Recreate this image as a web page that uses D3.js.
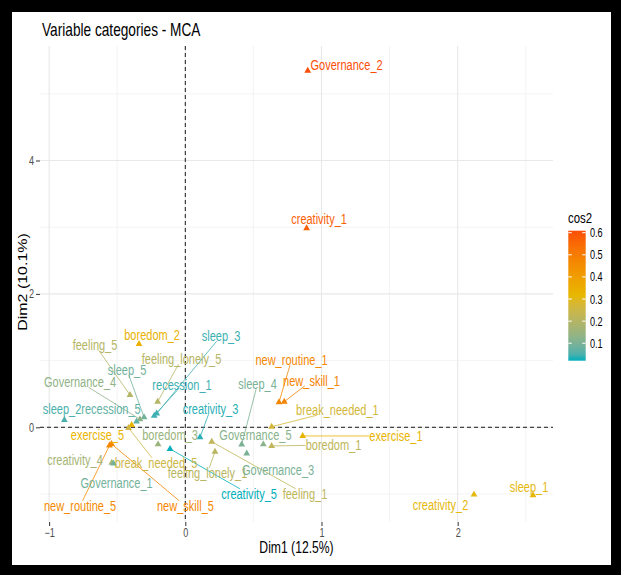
<!DOCTYPE html>
<html><head><meta charset="utf-8">
<script src="https://cdn.jsdelivr.net/npm/d3@7"></script>
<style>body{margin:0;background:#000}svg{display:block}</style>
</head><body>
<svg id="c" width="621" height="575"></svg>
<script>
// ---- data ----
const categories = ["Governance_2","creativity_1","boredom_2","feeling_5","feeling_lonely_5","sleep_3","new_routine_1","new_skill_1","sleep_5","Governance_4","recession_1","sleep_4","sleep_2","recession_5","creativity_3","break_needed_1","exercise_5","boredom_3","Governance_5","exercise_1","boredom_1","creativity_4","break_needed_5","feeling_lonely_1","Governance_3","Governance_1","creativity_5","feeling_1","new_routine_5","new_skill_5","sleep_1","creativity_2"];
const dim1 = [0.899,0.891,-0.340,-0.406,-0.203,-0.210,0.688,0.727,-0.303,-0.333,-0.228,0.414,-0.888,-0.358,0.108,0.634,-0.394,-0.200,0.573,0.862,0.634,-0.540,-0.417,0.218,0.451,-0.527,-0.112,0.194,-0.557,-0.542,2.553,2.120];
const dim2 = [5.346,2.984,1.249,0.484,0.384,0.207,0.375,0.384,0.150,0.120,0.174,-0.258,0.109,0.087,-0.150,0.009,0.034,-0.255,-0.255,-0.130,-0.280,-0.531,-0.010,-0.366,-0.393,-0.545,-0.325,-0.216,-0.273,-0.250,-1.019,-1.009];
const cos2 = [0.609,0.57,0.34,0.2,0.2,0.04,0.47,0.48,0.09,0.13,0.04,0.1,0.05,0.07,0.03,0.27,0.33,0.15,0.12,0.33,0.22,0.17,0.25,0.21,0.1,0.09,0.021,0.22,0.46,0.47,0.31,0.31];
// repelled label anchor positions (data units, centre of text)
const labelDim1 = [1.184,0.982,-0.244,-0.663,-0.028,0.262,0.780,0.927,-0.428,-0.773,-0.024,0.530,-0.905,-0.546,0.185,1.117,-0.645,-0.112,0.515,1.547,1.088,-0.810,-0.215,0.163,0.681,-0.505,0.468,0.879,-0.773,0.001,2.524,1.874];
const labelDim2 = [5.432,3.123,1.384,1.234,1.024,1.369,1.009,0.700,0.859,0.679,0.634,0.649,0.274,0.274,0.274,0.259,-0.115,-0.115,-0.115,-0.130,-0.265,-0.490,-0.535,-0.685,-0.640,-0.835,-1.000,-1.000,-1.180,-1.180,-0.895,-1.165];
const xTicks = [-1,0,1,2];
const xMinor = [-0.5,0.5,1.5,2.5];
const yTicks = [0,2,4];
const yMinor = [-1,1,3,5];
const legendTicks = [0.1,0.2,0.3,0.4,0.5,0.6];
const gradientColors = ["#00AFBB","#E7B800","#FC4E07"];
const titleText = "Variable categories - MCA";
const xTitle = "Dim1 (12.5%)";
const yTitle = "Dim2 (10.1%)";
const legendTitle = "cos2";

// ---- drawing ----
const SX = 0.76; // horizontal squeeze of the reference picture
const FONT = "'Liberation Sans', Arial, Helvetica, sans-serif";
const svg = d3.select("#c");
svg.append("rect").attr("width",621).attr("height",575).attr("fill","#000");
svg.append("rect").attr("x",12).attr("y",12).attr("width",599).attr("height",553).attr("fill","#fff");

const P = {l:40, r:553, t:46, b:522};
const x = d3.scaleLinear().domain([-1.067, 2.70]).range([P.l, P.r]);
const y = d3.scaleLinear().domain([-1.42, 5.717]).range([P.b, P.t]);
const cext = d3.extent(cos2);
const color = d3.scaleLinear()
  .domain([cext[0], (cext[0]+cext[1])/2, cext[1]])
  .range(gradientColors).interpolate(d3.interpolateLab);

function txt(g, px, py, s, size, fill, anchor, baseline){
  return g.append("text")
    .attr("transform", `translate(${px},${py}) scale(${SX},1)`)
    .attr("font-family", FONT).attr("font-size", size)
    .attr("fill", fill).attr("text-anchor", anchor||"start")
    .attr("dominant-baseline", baseline||"auto")
    .text(s);
}

// grid
const grid = svg.append("g");
grid.selectAll(".xm").data(xMinor).join("line")
  .attr("x1",d=>x(d)).attr("x2",d=>x(d)).attr("y1",P.t).attr("y2",P.b)
  .attr("stroke","#F0F0F0").attr("stroke-width",0.8);
grid.selectAll(".ym").data(yMinor).join("line")
  .attr("y1",d=>y(d)).attr("y2",d=>y(d)).attr("x1",P.l).attr("x2",P.r)
  .attr("stroke","#F0F0F0").attr("stroke-width",0.8);
grid.selectAll(".xM").data(xTicks).join("line")
  .attr("x1",d=>x(d)).attr("x2",d=>x(d)).attr("y1",P.t).attr("y2",P.b)
  .attr("stroke","#E8E8E8").attr("stroke-width",1.1);
grid.selectAll(".yM").data(yTicks).join("line")
  .attr("y1",d=>y(d)).attr("y2",d=>y(d)).attr("x1",P.l).attr("x2",P.r)
  .attr("stroke","#E8E8E8").attr("stroke-width",1.1);

// axes
const xAxis = d3.axisBottom(x).tickValues(xTicks).tickSize(4).tickFormat(d3.format("d"));
const yAxis = d3.axisLeft(y).tickValues(yTicks).tickSize(4).tickFormat(d3.format("d"));
const gx = svg.append("g").attr("transform",`translate(0,${P.b})`).call(xAxis);
const gy = svg.append("g").attr("transform",`translate(${P.l},0)`).call(yAxis);
[gx,gy].forEach(g=>{
  g.select(".domain").remove();
  g.selectAll(".tick line").attr("stroke","#333").attr("stroke-width",1);
  g.selectAll(".tick text").attr("font-family",FONT).attr("font-size",12).attr("fill","#4D4D4D");
});
gx.selectAll(".tick text").attr("y",6).attr("transform",`scale(${SX},1)`);
gy.selectAll(".tick text").attr("x",-6/SX).attr("transform",`scale(${SX},1)`);

// zero reference lines
svg.append("line").attr("x1",x(0)).attr("x2",x(0)).attr("y1",P.t).attr("y2",P.b)
  .attr("stroke","#000").attr("stroke-width",0.9).attr("stroke-dasharray","4,3");
svg.append("line").attr("y1",y(0)).attr("y2",y(0)).attr("x1",P.l).attr("x2",P.r)
  .attr("stroke","#000").attr("stroke-width",0.9).attr("stroke-dasharray","4,3");

// points
const data = categories.map((c,i)=>({name:c, x:dim1[i], y:dim2[i], c:cos2[i], lx:labelDim1[i], ly:labelDim2[i]}));
const tri = d3.symbol().type(d3.symbolTriangle).size(20);
svg.append("g").selectAll("path").data(data).join("path")
  .attr("d", tri).attr("transform", d=>`translate(${x(d.x)},${y(d.y)})`)
  .attr("fill", d=>color(d.c));

// labels with repel segments (segment aims at the label centre, clipped at its box)
const segG = svg.append("g");
const labG = svg.append("g");
const LS = 14.5;
data.forEach(d=>{
  const cx = x(d.lx), cy = y(d.ly);
  const t = txt(labG, cx, cy, d.name, LS, color(d.c), "middle", "central");
  const w = t.node().getComputedTextLength()*SX;
  const h = LS*0.72;
  const x0 = cx-w/2, x1 = cx+w/2, y0 = cy-h/2, y1 = cy+h/2;
  const px = x(d.x), py = y(d.y);
  const nx = Math.max(x0, Math.min(px, x1)), ny = Math.max(y0, Math.min(py, y1));
  const dist = Math.hypot(px-nx, py-ny);
  if (dist > 15) {
    const dx = cx-px, dy = cy-py;
    let ty = 1;
    if (py < y0) ty = (y0-py)/dy; else if (py > y1) ty = (y1-py)/dy;
    let tx = 1;
    if (px < x0) tx = (x0-px)/dx; else if (px > x1) tx = (x1-px)/dx;
    const tEnd = Math.max(px>=x0&&px<=x1?0:tx, py>=y0&&py<=y1?0:ty);
    const ex = px + dx*tEnd, ey = py + dy*tEnd;
    segG.append("line").attr("x1",px).attr("y1",py).attr("x2",ex).attr("y2",ey)
      .attr("stroke", color(d.c)).attr("stroke-width",0.8);
  }
});

// titles
txt(svg, 42, 36, titleText, 18, "#000");
txt(svg, (P.l+P.r)/2, 553, xTitle, 16, "#000", "middle");
svg.append("text").attr("transform",`translate(26.5,282) rotate(-90) scale(1,${SX})`)
  .attr("font-family",FONT).attr("font-size",16).attr("text-anchor","middle").attr("fill","#000")
  .text(yTitle);

// legend
const lg = svg.append("g");
const ls = d3.scaleLinear().domain(cext).range([360.7, 230.7]);
const defs = svg.append("defs");
const grad = defs.append("linearGradient").attr("id","cg").attr("x1",0).attr("x2",0).attr("y1",1).attr("y2",0);
d3.range(0,1.0001,0.05).forEach(f=>{
  grad.append("stop").attr("offset",f).attr("stop-color", color(cext[0]+f*(cext[1]-cext[0])));
});
lg.append("rect").attr("x",568.3).attr("y",ls(cext[1])).attr("width",17.4)
  .attr("height",ls(cext[0])-ls(cext[1])).attr("fill","url(#cg)");
legendTicks.forEach(v=>{
  lg.append("line").attr("x1",568.3).attr("x2",571.8).attr("y1",ls(v)).attr("y2",ls(v)).attr("stroke","#fff").attr("stroke-width",1);
  lg.append("line").attr("x1",582.2).attr("x2",585.7).attr("y1",ls(v)).attr("y2",ls(v)).attr("stroke","#fff").attr("stroke-width",1);
  txt(lg, 590, ls(v), d3.format(".1f")(v), 12, "#000", "start", "central");
});
txt(lg, 568, 223, legendTitle, 15, "#000");
</script>
</body></html>
